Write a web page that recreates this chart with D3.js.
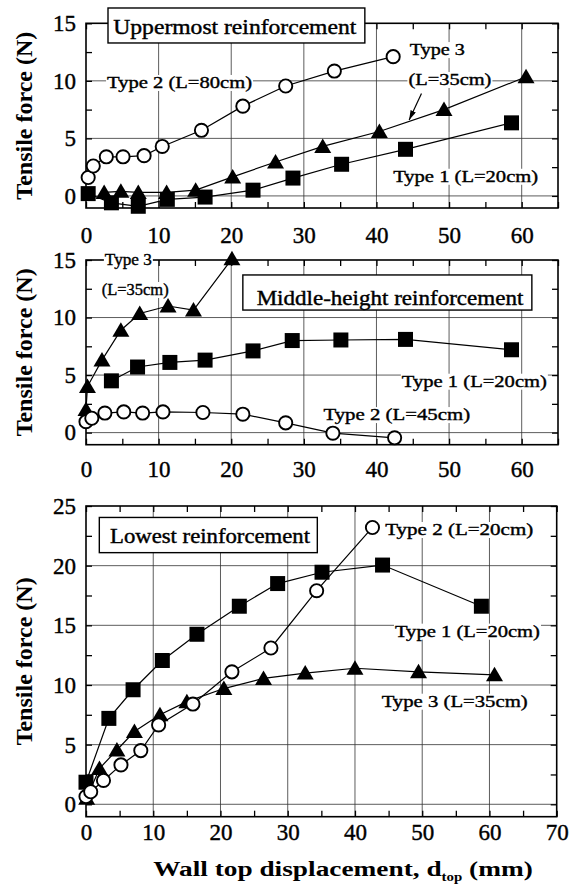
<!DOCTYPE html>
<html>
<head>
<meta charset="utf-8">
<script src="https://cdn.jsdelivr.net/npm/d3@7"></script>
<style>
  body { margin: 0; background: #fff; }
  svg { display: block; }
  svg text { font-family: "Times New Roman", "Liberation Serif", Times, serif; fill: #000; }
  svg text.thick { stroke: #000; stroke-width: 0.4px; }
</style>
</head>
<body>
<svg id="chart" width="570" height="885"></svg>
<script>
// [wall top displacement (mm), tensile force (N)]
const upperType1 = [[0.3,0.2],[3.5,-0.6],[7.2,-0.9],[11.2,-0.3],[16.4,-0.1],[23.0,0.5],[28.5,1.55],[35.2,2.75],[44.0,4.05],[58.6,6.35]]
const upperType2 = [[0.3,1.6],[1.0,2.6],[2.8,3.4],[5.1,3.4],[8.0,3.5],[10.5,4.3],[15.9,5.7],[21.6,7.8],[27.5,9.55],[34.2,10.85],[42.3,12.1]]
const upperType3 = [[2.5,0.3],[4.8,0.4],[7.2,0.3],[11.1,0.3],[15.1,0.5],[20.2,1.65],[26.1,2.95],[32.6,4.3],[40.4,5.6],[49.3,7.5],[60.6,10.35]]

const middleType1 = [[3.5,4.5],[7.1,5.7],[11.55,6.1],[16.4,6.3],[23.0,7.1],[28.4,8.0],[35.1,8.05],[44.0,8.1],[58.6,7.2]]
const middleType2 = [[0,0.95],[0.8,1.25],[2.6,1.7],[5.2,1.8],[7.8,1.7],[10.6,1.8],[16.1,1.75],[21.6,1.6],[27.5,0.85],[34.0,-0.05],[42.5,-0.45]]
const middleType3 = [[0,2],[0.2,4],[2.2,6.3],[4.8,8.9],[7.4,10.35],[11.3,11.0],[14.8,10.65],[20.1,15.1]]

const lowerType1 = [[0,1.85],[3.4,7.2],[7.0,9.6],[11.35,12.05],[16.5,14.25],[22.8,16.6],[28.5,18.5],[35.1,19.45],[44.1,20.05],[58.8,16.6]]
const lowerType2 = [[0,0.65],[0.7,1.05],[2.6,2.0],[5.2,3.3],[8.15,4.5],[10.8,6.65],[15.9,8.4],[21.7,11.1],[27.5,13.1],[34.3,17.9],[42.6,23.2]]
const lowerType3 = [[0.1,0.5],[2.0,3.0],[4.6,4.55],[7.2,6.1],[11.0,7.5],[15.0,8.6],[20.5,9.7],[26.4,10.55],[32.6,11.0],[40.0,11.4],[49.45,11.1],[60.75,10.85]]

const xTicksTop = [0,10,20,30,40,50,60]
const xTicksLow = [0,10,20,30,40,50,60,70]
const yTicksTop = [0,5,10,15]
const yTicksLow = [0,5,10,15,20,25]

const svg = d3.select('#chart')
const left = 86
const serif = '"Times New Roman", "Liberation Serif", Times, serif'

const defs = svg.append('defs')
defs.append('marker')
  .attr('id', 'arrow')
  .attr('viewBox', '0 0 10 6')
  .attr('refX', 10)
  .attr('refY', 3)
  .attr('markerWidth', 8)
  .attr('markerHeight', 5)
  .attr('orient', 'auto')
  .append('path')
  .attr('d', 'M0,0L10,3L0,6Z')

// markers: square = Type 1, open circle = Type 2, triangle = Type 3
const shapes = {
  type1: { d: 'M-7.5,-7.5H7.5V7.5H-7.5Z', fill: '#000', stroke: 'none' },
  type2: { d: d3.symbol(d3.symbolCircle, Math.PI * 6.6 * 6.6)(), fill: '#fff', stroke: '#000' },
  type3: { d: 'M0,-8L8.5,6.5L-8.5,6.5Z', fill: '#000', stroke: 'none' }
}

const panels = [
  {
    x: [0, 65], y: [-1.05, 15], top: 23.3, bottom: 208, right: 558,
    xTicks: xTicksTop, yTicks: yTicksTop, labelPad: 19,
    series: [['type1', upperType1], ['type3', upperType3], ['type2', upperType2]],
    box: { text: 'Uppermost reinforcement', x0: 3.03, x1: 38.4, y0: 16.33, y1: 13.29, at: [3.76, 14.11], w: 243 },
    notes: [
      { text: 'Type 2 (L=80cm)', at: [2.9, 9.38], w: 145 },
      { text: 'Type 3', at: [44.6, 12.24], w: 55 },
      { text: '(L=35cm)', at: [44.4, 9.64], w: 83 },
      { text: 'Type 1 (L=20cm)', at: [42.3, 1.23], w: 145 }
    ],
    arrow: [[46.2, 8.9], [44.5, 6.6]]
  },
  {
    x: [0, 65], y: [-1.05, 15], top: 260, bottom: 444.7, right: 558,
    xTicks: xTicksTop, yTicks: yTicksTop, labelPad: 16,
    series: [['type1', middleType1], ['type3', middleType3], ['type2', middleType2]],
    box: { text: 'Middle-height reinforcement', x0: 21.6, x1: 61.4, y0: 13.7, y1: 10.65, at: [23.5, 11.09], w: 266.7 },
    notes: [
      { text: 'Type 3', at: [2.6, 14.56], w: 47 },
      { text: '(L=35cm)', at: [2.16, 11.96], w: 67 },
      { text: 'Type 1 (L=20cm)', at: [43.5, 3.99], w: 145 },
      { text: 'Type 2 (L=45cm)', at: [32.7, 1.09], w: 146.7 }
    ]
  },
  {
    x: [0, 70], y: [-1.04, 25], top: 506, bottom: 816.7, right: 556.7,
    xTicks: xTicksLow, yTicks: yTicksLow, labelPad: 7,
    series: [['type1', lowerType1], ['type3', lowerType3], ['type2', lowerType2]],
    box: { text: 'Lowest reinforcement', x0: 1.98, x1: 34.4, y0: 24.04, y1: 21.09, at: [3.57, 21.87], w: 200 },
    notes: [
      { text: 'Type 2 (L=20cm)', at: [44.5, 22.57], w: 148 },
      { text: 'Type 1 (L=20cm)', at: [45.95, 14.05], w: 145 },
      { text: 'Type 3 (L=35cm)', at: [43.97, 8.18], w: 146 }
    ]
  }
]

const addText = (g, str, px, py, size, w) => {
  const t = g.append('text')
    .attr('class', 'thick')
    .attr('x', px)
    .attr('y', py)
    .attr('font-size', size)
    .text(str)
  if (w) t.attr('textLength', w).attr('lengthAdjust', 'spacingAndGlyphs')
  return t
}

const drawPanel = p => {
  const x = d3.scaleLinear().domain(p.x).range([left, p.right])
  const y = d3.scaleLinear().domain(p.y).range([p.bottom, p.top])
  const g = svg.append('g')
  const innerH = p.bottom - p.top
  const innerW = p.right - left

  // grid lines at the labelled ticks
  g.append('g')
    .selectAll('line')
    .data(p.xTicks.filter(v => v > p.x[0] && v < p.x[1]))
    .enter().append('line')
    .attr('x1', d => x(d)).attr('x2', d => x(d))
    .attr('y1', p.top).attr('y2', p.bottom)
    .attr('stroke', '#333').attr('stroke-width', 0.8)

  g.append('g')
    .selectAll('line')
    .data(p.yTicks.filter(v => v > p.y[0] && v < p.y[1]))
    .enter().append('line')
    .attr('x1', left).attr('x2', p.right)
    .attr('y1', d => y(d)).attr('y2', d => y(d))
    .attr('stroke', '#333').attr('stroke-width', 0.8)

  // frame
  g.append('rect')
    .attr('x', left).attr('y', p.top)
    .attr('width', innerW).attr('height', innerH)
    .attr('fill', 'none').attr('stroke', '#000').attr('stroke-width', 1.6)

  // inward ticks on all four sides
  const xMinor = d3.range(p.x[0], p.x[1] + 0.01, 5)
  const yMinor = d3.range(0, p.y[1] + 0.01, 2.5)
  const tickSides = [
    [d3.axisBottom(x).tickValues(xMinor), `translate(0,${p.bottom})`],
    [d3.axisTop(x).tickValues(xMinor), `translate(0,${p.top})`],
    [d3.axisLeft(y).tickValues(yMinor), `translate(${left},0)`],
    [d3.axisRight(y).tickValues(yMinor), `translate(${p.right},0)`]
  ]
  tickSides.forEach(([axis, tr]) => {
    const a = g.append('g')
      .attr('transform', tr)
      .call(axis.tickSize(-6).tickFormat(''))
    a.select('.domain').remove()
    a.selectAll('line').attr('stroke', '#000').attr('stroke-width', 1.3)
  })

  // tick labels
  const xa = g.append('g')
    .attr('transform', `translate(0,${p.bottom})`)
    .call(d3.axisBottom(x).tickValues(p.xTicks).tickSize(0).tickPadding(p.labelPad))
  const ya = g.append('g')
    .attr('transform', `translate(${left},0)`)
    .call(d3.axisLeft(y).tickValues(p.yTicks).tickSize(0).tickPadding(10))
  ;[xa, ya].forEach(a => {
    a.attr('font-family', serif)
    a.select('.domain').remove()
    a.selectAll('text')
      .attr('class', 'thick')
      .attr('font-size', 23)
      .attr('fill', '#000')
  })

  svg.append('text')
    .attr('transform', `translate(24,${(p.top + p.bottom) / 2}) rotate(-90)`)
    .attr('text-anchor', 'middle')
    .attr('dominant-baseline', 'central')
    .attr('font-size', 24)
    .attr('font-weight', 'bold')
    .text('Tensile force (N)')

  // title box
  const b = p.box
  g.append('rect')
    .attr('x', x(b.x0)).attr('y', y(b.y0))
    .attr('width', x(b.x1) - x(b.x0)).attr('height', y(b.y1) - y(b.y0))
    .attr('fill', '#fff').attr('stroke', '#000').attr('stroke-width', 1.4)
  addText(g, b.text, x(b.at[0]), y(b.at[1]), 20, b.w)

  // annotations on a white ground
  p.notes.forEach(n => {
    const t = addText(g, n.text, x(n.at[0]), y(n.at[1]), 17, n.w)
    const bb = t.node().getBBox()
    g.insert('rect', () => t.node())
      .attr('x', bb.x - 1).attr('y', bb.y + 2)
      .attr('width', bb.width + 2).attr('height', bb.height - 3)
      .attr('fill', '#fff')
  })

  if (p.arrow) {
    g.append('line')
      .attr('x1', x(p.arrow[0][0])).attr('y1', y(p.arrow[0][1]))
      .attr('x2', x(p.arrow[1][0])).attr('y2', y(p.arrow[1][1]))
      .attr('stroke', '#000').attr('stroke-width', 1.2)
      .attr('marker-end', 'url(#arrow)')
  }

  // series
  const line = d3.line().x(d => x(d[0])).y(d => y(d[1]))
  p.series.forEach(([type, data]) => {
    g.append('path')
      .datum(data)
      .attr('d', line)
      .attr('fill', 'none')
      .attr('stroke', '#000')
      .attr('stroke-width', 1.2)
  })
  p.series.forEach(([type, data]) => {
    const s = shapes[type]
    g.append('g')
      .selectAll('path')
      .data(data)
      .enter().append('path')
      .attr('transform', d => `translate(${x(d[0])},${y(d[1])})`)
      .attr('d', s.d)
      .attr('fill', s.fill)
      .attr('stroke', s.stroke)
      .attr('stroke-width', 1.9)
  })
}

panels.forEach(drawPanel)

// x axis title with subscript
const xt = svg.append('text')
  .attr('font-size', 22)
  .attr('font-weight', 'bold')
  .attr('text-anchor', 'middle')
xt.append('tspan').text('Wall top displacement, d')
xt.append('tspan').attr('font-size', 12).attr('dy', 5).text('top')
xt.append('tspan').attr('dy', -5).text(' (mm)')
const xtw = xt.node().getBBox().width
xt.attr('transform', `translate(343,876) scale(${380 / xtw},1)`)
</script>
</body>
</html>
